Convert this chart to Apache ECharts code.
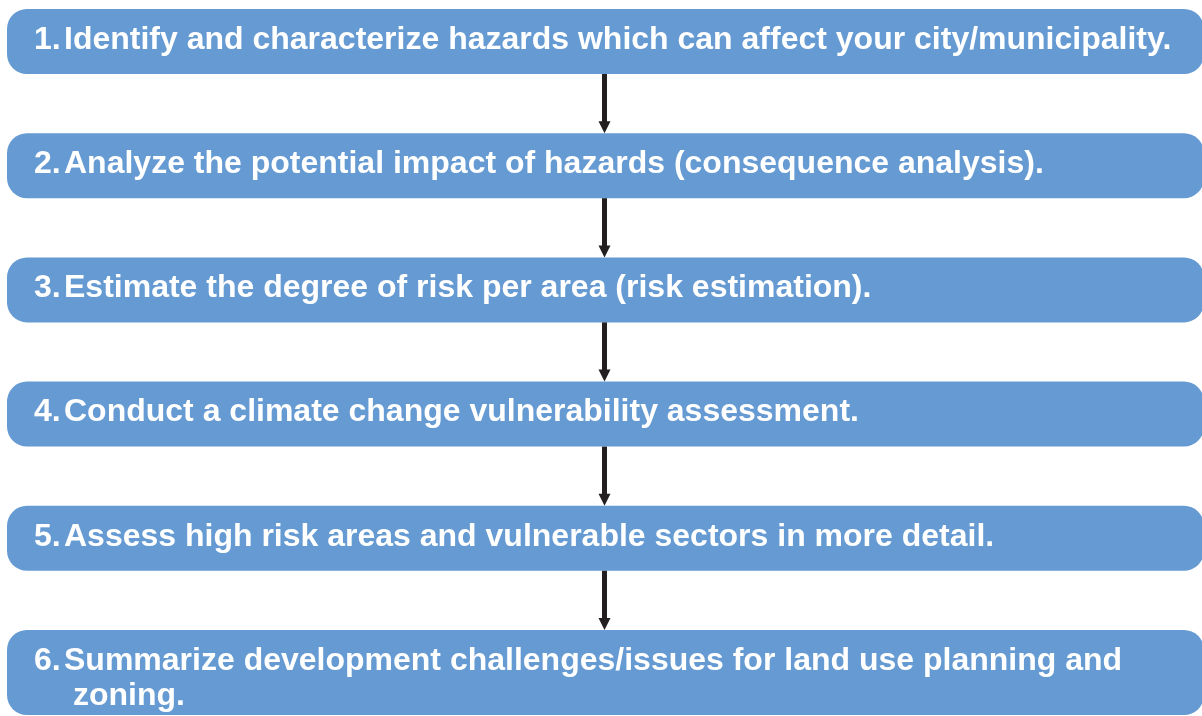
<!DOCTYPE html>
<html>
<head>
<meta charset="utf-8">
<script src="https://cdn.jsdelivr.net/npm/echarts@6/dist/echarts.min.js"></script>
<style>
  html, body { margin: 0; padding: 0; background: #fff; }
  #main { width: 1202px; height: 716px; }
</style>
</head>
<body>
<div id="main"></div>
<script>
// 流程步骤
const stepNumbers = ['1.', '2.', '3.', '4.', '5.', '6.']
const stepTexts = [
  'Identify and characterize hazards which can affect your city/municipality.',
  'Analyze the potential impact of hazards (consequence analysis).',
  'Estimate the degree of risk per area (risk estimation).',
  'Conduct a climate change vulnerability assessment.',
  'Assess high risk areas and vulnerable sectors in more detail.',
  'Summarize development challenges/issues for land use planning and\n zoning.'
]

const boxColor = '#659ad2'
const arrowColor = '#231f20'
const font = 'bold 32px "Liberation Sans", Arial, Helvetica, sans-serif'

var chart = echarts.init(document.getElementById('main'))

function renderStep(params, api) {
  const idx = api.value(0)
  const left = api.coord([0, idx])
  const right = api.coord([1, idx])
  const lines = stepTexts[idx].split('\n')
  const top = left[1] - 32.5
  const height = 65 + 20 * (lines.length - 1)
  const children = [
    {
      type: 'rect',
      shape: { x: left[0], y: top, width: right[0] - left[0] + 2, height: height, r: 20 },
      style: { fill: boxColor }
    },
    {
      type: 'text',
      style: {
        text: stepNumbers[idx], x: left[0] + 27, y: top + 31,
        font: font, fill: '#fff', verticalAlign: 'middle'
      }
    }
  ]
  // 每行文字单独绘制
  lines.forEach((line, k) => {
    children.push({
      type: 'text',
      style: {
        text: line, x: left[0] + 57, y: top + 31 + 35 * k,
        font: font, fill: '#fff', verticalAlign: 'middle'
      }
    })
  })
  // 箭头
  if (idx < stepNumbers.length - 1) {
    const cx = (left[0] + right[0]) / 2
    const nextTop = api.coord([0, idx + 1])[1] - 32.5
    const y0 = top + height
    children.push({
      type: 'rect',
      shape: { x: cx - 2.5, y: y0, width: 5, height: nextTop - y0 - 11 },
      style: { fill: arrowColor }
    })
    children.push({
      type: 'polygon',
      shape: { points: [[cx - 6, nextTop - 12], [cx + 6, nextTop - 12], [cx, nextTop]] },
      style: { fill: arrowColor }
    })
  }
  return { type: 'group', children: children }
}

var option = {
  animation: false,
  grid: { left: 7, right: 0, top: 0, bottom: 0 },
  xAxis: { type: 'value', min: 0, max: 1, show: false },
  yAxis: { type: 'value', min: -0.3341, max: 5.4308, inverse: true, show: false },
  series: [
    {
      type: 'custom',
      renderItem: renderStep,
      clip: false,
      dimensions: ['step'],
      encode: { y: 0 },
      data: stepNumbers.map((n, i) => [i])
    }
  ]
}

chart.setOption(option)
</script>
</body>
</html>
